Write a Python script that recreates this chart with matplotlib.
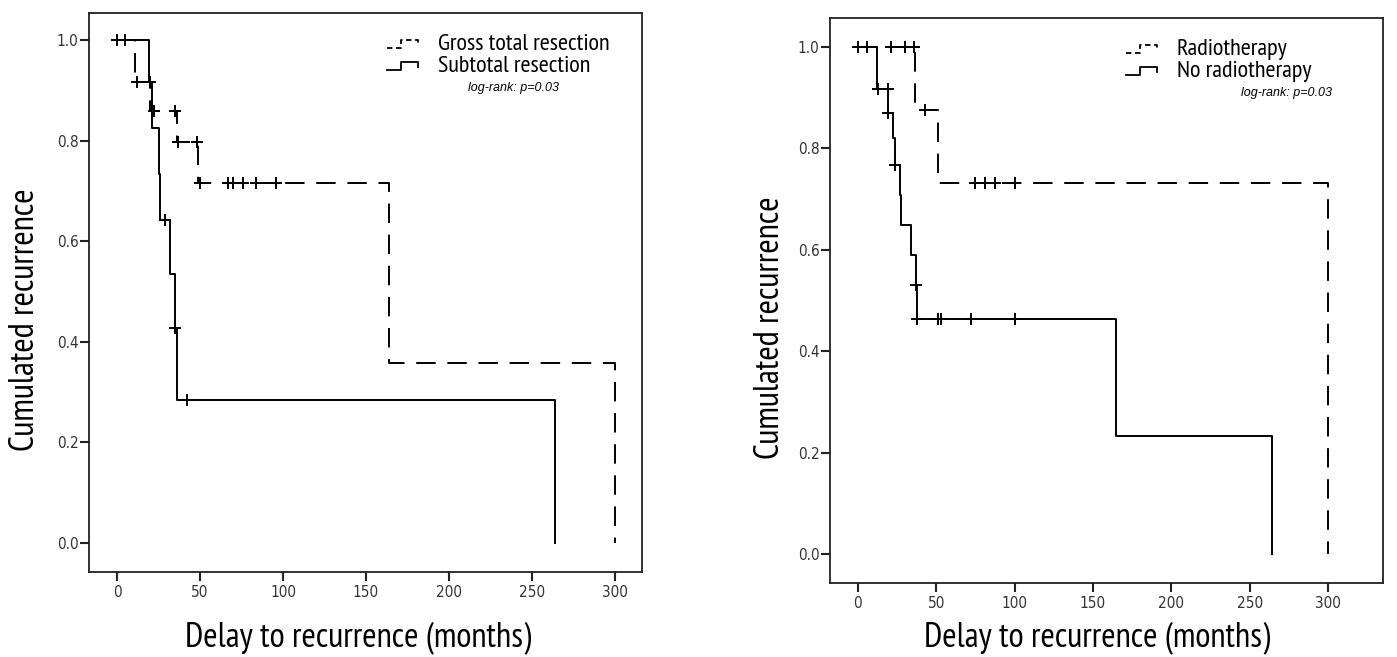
import matplotlib
matplotlib.use("Agg")
import matplotlib.pyplot as plt

# left panel: extent of resection
gtr_t = [11, 20, 36, 49, 164, 300]
gtr_s = [0.917, 0.859, 0.798, 0.716, 0.358, 0.0]
gtr_ct = [0, 5, 12, 22, 35, 37, 48, 50, 67, 70, 76, 84, 96]
gtr_cs = [1.0, 1.0, 0.917, 0.859, 0.859, 0.798, 0.798, 0.716, 0.716, 0.716, 0.716, 0.716, 0.716]

str_t = [19, 21, 25, 26, 32, 35, 36, 264]
str_s = [0.917, 0.825, 0.733, 0.642, 0.535, 0.428, 0.285, 0.0]
str_ct = [20, 29, 35, 42]
str_cs = [0.917, 0.642, 0.428, 0.285]

# right panel: radiotherapy
rt_t = [36.5, 51, 300]
rt_s = [0.875, 0.731, 0.0]
rt_ct = [0, 6, 21, 30, 36, 43, 75, 81, 87.5, 100]
rt_cs = [1.0, 1.0, 1.0, 1.0, 1.0, 0.875, 0.731, 0.731, 0.731, 0.731]

nort_t = [12.5, 19.5, 22.7, 23.8, 27, 27.5, 34, 37.4, 37.6, 165, 264]
nort_s = [0.917, 0.869, 0.820, 0.767, 0.708, 0.649, 0.590, 0.531, 0.464, 0.232, 0.0]
nort_ct = [13, 19.5, 19.5, 23.8, 37.4, 38, 51.4, 53, 72, 100]
nort_cs = [0.917, 0.917, 0.869, 0.767, 0.531, 0.464, 0.464, 0.464, 0.464, 0.464]

xticks = [0, 50, 100, 150, 200, 250, 300]
yticks = [0.0, 0.2, 0.4, 0.6, 0.8, 1.0]

W, H = 1397, 657
LABEL_FONT = ["PT Sans Narrow", "Liberation Sans", "DejaVu Sans"]
DASH = (0, (10, 6))

fig = plt.figure(figsize=(W / 100, H / 100), dpi=100)
ax1 = fig.add_axes([89 / W, 1 - 572 / H, 553 / W, 559 / H])
ax2 = fig.add_axes([830 / W, 1 - 583 / H, 553 / W, 565 / H])


def km(ax, t, s, ct, cs, ls):
    ax.step([0] + t, [1.0] + s, where="post", color="k", lw=1.4, ls=ls)
    ax.plot(ct, cs, ls="none", marker="+", ms=9, mew=1.4, color="k")


def key(ax, xf, yf, ls, label):
    bb = ax.get_position()
    pw = 1 / (bb.width * W)
    ph = 1 / (bb.height * H)
    xs = [xf, xf + 14 * pw, xf + 14 * pw, xf + 31 * pw, xf + 31 * pw]
    ys = [yf + 2 * ph, yf + 2 * ph, yf + 10 * ph, yf + 10 * ph, yf + 5 * ph]
    ax.plot(xs, ys, transform=ax.transAxes, color="k", lw=1.3, ls=ls, clip_on=False)
    ax.text(xf + 51 * pw, yf, label, transform=ax.transAxes, fontsize=17.5,
            family=LABEL_FONT, va="baseline", ha="left")


def style(ax, xlim, ylim):
    ax.set_xlim(xlim)
    ax.set_ylim(ylim)
    ax.set_xticks(xticks)
    ax.set_yticks(yticks)
    ax.set_yticklabels(["%.1f" % v for v in yticks])
    for side in ["top", "right", "bottom", "left"]:
        ax.spines[side].set_linewidth(1.3)
        ax.spines[side].set_color("#222222")
    ax.tick_params(direction="out", length=6.5, width=1.5, color="#222222",
                   labelsize=11, labelcolor="#333333")
    ax.tick_params(axis="x", pad=3)
    ax.tick_params(axis="y", pad=1)
    for lab in ax.get_xticklabels() + ax.get_yticklabels():
        lab.set_fontstretch("condensed")


km(ax1, gtr_t, gtr_s, gtr_ct, gtr_cs, DASH)
km(ax1, str_t, str_s, str_ct, str_cs, "-")
style(ax1, (-16.9, 316.3), (-0.058, 1.054))
key(ax1, 0.539, 0.9338, (0, (3, 2)), "Gross total resection")
key(ax1, 0.539, 0.895, "-", "Subtotal resection")
ax1.text(0.767, 0.866, "log-rank: p=0.03", transform=ax1.transAxes, fontsize=9,
         style="italic", family="Liberation Sans", ha="center", va="center")

km(ax2, rt_t, rt_s, rt_ct, rt_cs, DASH)
km(ax2, nort_t, nort_s, nort_ct, nort_cs, "-")
style(ax2, (-17.7, 335.0), (-0.057, 1.057))
key(ax2, 0.535, 0.9345, (0, (3, 2)), "Radiotherapy")
key(ax2, 0.535, 0.8963, "-", "No radiotherapy")
ax2.text(0.825, 0.8673, "log-rank: p=0.03", transform=ax2.transAxes, fontsize=9,
         style="italic", family="Liberation Sans", ha="center", va="center")

fig.text(25 / W, 1 - 320 / H, "Cumulated recurrence", rotation=90, fontsize=25,
         family=LABEL_FONT, ha="center", va="center")
fig.text(358 / W, 1 - 638 / H, "Delay to recurrence (months)", fontsize=25,
         family=LABEL_FONT, ha="center", va="center")
fig.text(770 / W, 1 - 328 / H, "Cumulated recurrence", rotation=90, fontsize=25,
         family=LABEL_FONT, ha="center", va="center")
fig.text(1097 / W, 1 - 638 / H, "Delay to recurrence (months)", fontsize=25,
         family=LABEL_FONT, ha="center", va="center")

fig.savefig("out.png", dpi=100)
